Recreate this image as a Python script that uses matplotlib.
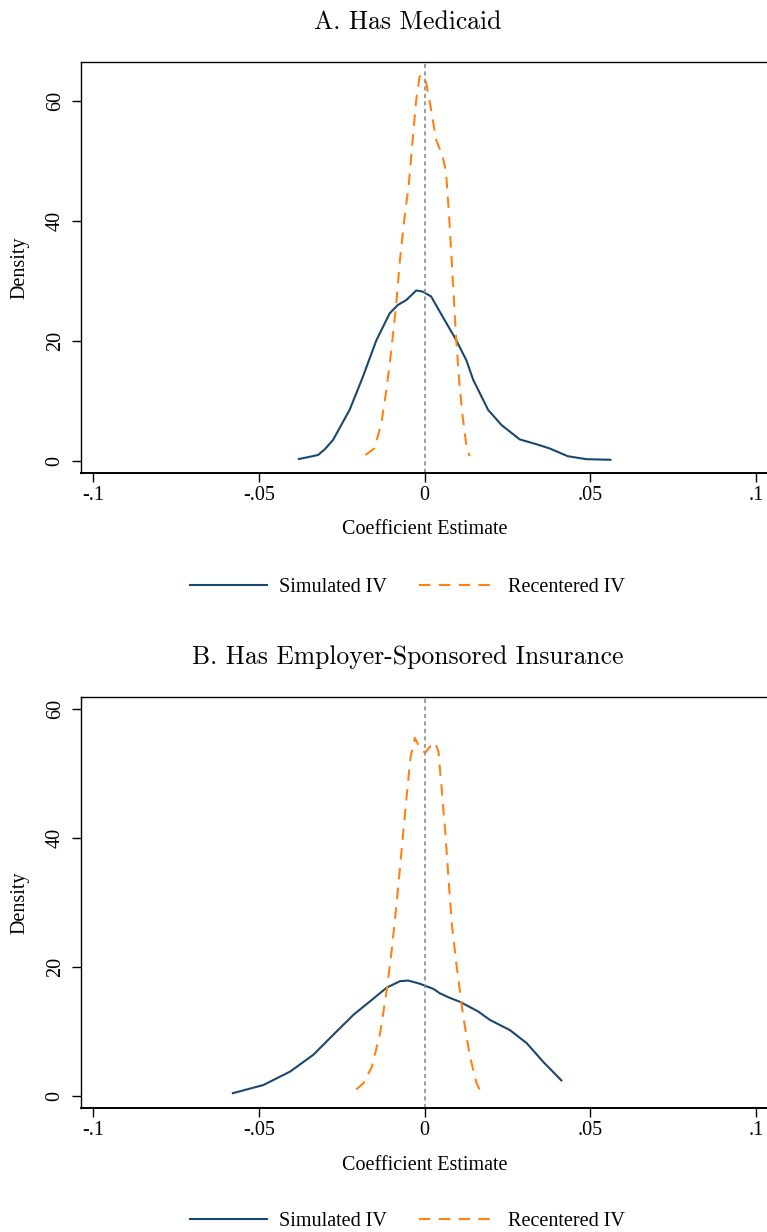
import numpy as np
import matplotlib.pyplot as plt
from matplotlib.lines import Line2D

# Panel A: Has Medicaid
sim_a_x = [-0.0382, -0.0355, -0.0321, -0.0300, -0.0276, -0.0226, -0.0186, -0.0146, -0.0105,
           -0.0080, -0.0055, -0.0025, -0.0005, 0.0020, 0.0055, 0.0095, 0.0126, 0.0147,
           0.0192, 0.0232, 0.0287, 0.0337, 0.0377, 0.0432, 0.0488, 0.0564]
sim_a_y = [0.3, 0.6, 1.0, 2.0, 3.5, 8.5, 14.0, 20.0, 24.6,
           26.0, 26.8, 28.4, 28.2, 27.4, 24.0, 20.2, 16.8, 13.5,
           8.5, 6.0, 3.6, 2.8, 2.1, 0.8, 0.3, 0.2]
rec_a_x = [-0.0178, -0.0151, -0.0130, -0.0115, -0.0100, -0.0085, -0.0075, -0.0060, -0.0047,
           -0.0035, -0.0025, -0.0015, -0.0005, 0.0005, 0.0020, 0.0035, 0.0055, 0.0065,
           0.0073, 0.0080, 0.0087, 0.0095, 0.0105, 0.0115, 0.0126, 0.0136]
rec_a_y = [1.0, 2.1, 6.3, 11.8, 18.5, 26.3, 33.0, 40.7, 46.3,
           54.0, 60.2, 64.0, 64.3, 63.0, 58.5, 53.5, 50.7, 48.0,
           41.8, 35.2, 28.5, 20.7, 13.0, 7.4, 2.7, 0.8]

# Panel B: Has Employer-Sponsored Insurance
sim_b_x = [-0.0581, -0.0486, -0.0405, -0.0335, -0.0275, -0.0214, -0.0159, -0.0114, -0.0074,
           -0.0049, -0.0014, 0.0027, 0.0047, 0.0077, 0.0107, 0.0162, 0.0197, 0.0258,
           0.0308, 0.0358, 0.0415]
sim_b_y = [0.4, 1.7, 3.8, 6.4, 9.5, 12.6, 14.9, 16.8, 17.8,
           17.9, 17.4, 16.6, 15.9, 15.2, 14.6, 13.1, 11.8, 10.2,
           8.2, 5.3, 2.3]
rec_b_x = [-0.0206, -0.0184, -0.0159, -0.0134, -0.0114, -0.0099, -0.0084, -0.0069, -0.0054,
           -0.0042, -0.0029, -0.0014, 0.0002, 0.0017, 0.0032, 0.0042, 0.0052, 0.0062,
           0.0072, 0.0082, 0.0097, 0.0117, 0.0137, 0.0157, 0.0167]
rec_b_y = [1.0, 2.0, 4.5, 9.7, 16.4, 22.6, 29.9, 38.2, 46.4,
           52.6, 55.5, 53.9, 53.2, 54.2, 54.8, 53.4, 47.5, 41.3,
           34.0, 26.8, 20.1, 12.3, 6.1, 2.0, 0.9]

titles = ["A. Has Medicaid", "B. Has Employer-Sponsored Insurance"]
xticks = [-0.1, -0.05, 0, 0.05, 0.1]
xticklabels = ["-.1", "-.05", "0", ".05", ".1"]
yticks = [0, 20, 40, 60]

navy = "#1a476f"
orange = "#ff8214"
serif = "Liberation Serif"
fs = 14.5

W, H = 767, 1232
fig = plt.figure(figsize=(W / 100, H / 100), dpi=100)

# pixel layout: (top, bottom, ylim, title y, xlabel y, legend y)
panels = [
    (61.7, 473, (-2.0, 66.5), 22, 530, 587, sim_a_x, sim_a_y, rec_a_x, rec_a_y),
    (696.7, 1108, (-1.86, 61.9), 657, 1165, 1221, sim_b_x, sim_b_y, rec_b_x, rec_b_y),
]
left_px = 80.7

for i, (top, bot, ylim, ty, xly, ly, sx, sy, rx, ry) in enumerate(panels):
    ax = fig.add_axes([left_px / W, 1 - bot / H, 1 - left_px / W, (bot - top) / H])
    ax.plot(sx, sy, color=navy, lw=1.5, solid_capstyle="butt")
    ax.plot(rx, ry, color=orange, lw=1.5, dashes=(5.5, 4))
    ax.axvline(0, color="#8c8c8c", lw=1.2, dashes=(2.5, 2))
    ax.set_xlim(-0.1037, 0.1033)
    ax.set_ylim(*ylim)
    ax.set_xticks(xticks)
    ax.set_xticklabels(xticklabels, fontfamily=serif, fontsize=fs)
    ax.set_yticks(yticks)
    ax.set_yticklabels([str(v) for v in yticks], fontfamily=serif, fontsize=fs,
                       rotation=90, va="center")
    ax.tick_params(axis="both", direction="out", length=6.5, width=1.0, color="black")
    ax.tick_params(axis="x", pad=3)
    ax.tick_params(axis="y", pad=5)
    for s in ["top", "left"]:
        ax.spines[s].set_linewidth(1.0)
    ax.spines["right"].set_visible(False)  # plot region runs past the crop
    ax.spines["bottom"].set_linewidth(1.4)

    fig.text(408 / W, 1 - ty / H, titles[i], fontfamily="cmr10", fontsize=18.5,
             ha="center", va="center")
    fig.text(424.5 / W, 1 - xly / H, "Coefficient Estimate", fontfamily=serif,
             fontsize=fs, ha="center", va="center")
    fig.text(20 / W, 1 - (top + bot) / 2 / H, "Density", fontfamily=serif, fontsize=fs,
             rotation=90, ha="center", va="center")

    handles = [Line2D([], [], color=navy, lw=1.5),
               Line2D([], [], color=orange, lw=1.5, dashes=(5.5, 4))]
    fig.legend(handles, ["Simulated IV", "Recentered IV"], loc="center",
               bbox_to_anchor=(407.5 / W, 1 - ly / H), ncol=2, frameon=False,
               prop={"family": serif, "size": fs}, handlelength=3.8,
               handletextpad=0.6, columnspacing=1.6)

fig.savefig("out.png", dpi=100)
